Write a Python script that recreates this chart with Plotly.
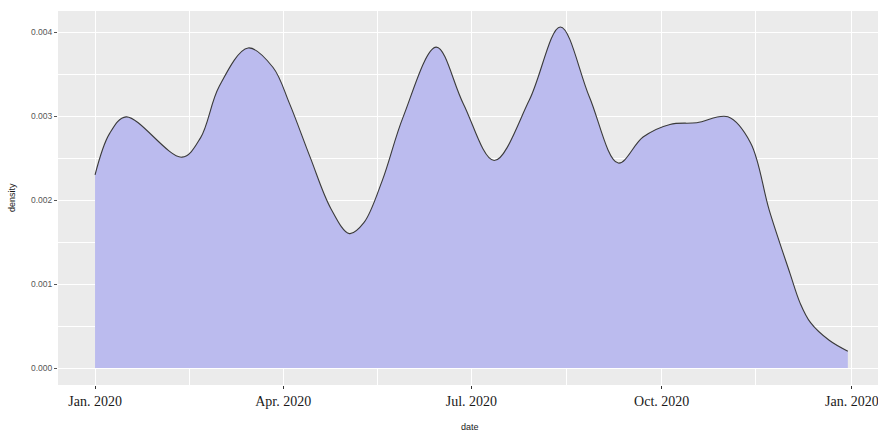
import plotly.graph_objects as go

# Kernel density estimate of event dates, sampled along the curve
dates = [
    "2020-01-01", "2020-01-08", "2020-01-16", "2020-02-12",
    "2020-02-21", "2020-03-01", "2020-03-15", "2020-03-27", "2020-04-04",
    "2020-04-14", "2020-04-24", "2020-05-03", "2020-05-10", "2020-05-19",
    "2020-05-29", "2020-06-14", "2020-06-27", "2020-07-12",
    "2020-07-29", "2020-08-13", "2020-08-27", "2020-09-10", "2020-09-22",
    "2020-10-05", "2020-10-18", "2020-11-02", "2020-11-13", "2020-11-22",
    "2020-12-02", "2020-12-07", "2020-12-12", "2020-12-21", "2020-12-30",
]
density = [
    0.00230, 0.00279, 0.00299, 0.00251,
    0.00274, 0.00335, 0.00381, 0.00358, 0.00315,
    0.00251, 0.00190, 0.00160, 0.00173, 0.00224,
    0.00299, 0.00382, 0.00315, 0.00247,
    0.00319, 0.00406, 0.00323, 0.00244, 0.00275,
    0.00290, 0.00292, 0.00299, 0.00268, 0.00188,
    0.00113, 0.00077, 0.00054, 0.00033, 0.00020,
]

x_tick_vals = ["2020-01-01", "2020-04-01", "2020-07-01", "2020-10-01", "2021-01-01"]
x_tick_text = ["Jan. 2020", "Apr. 2020", "Jul. 2020", "Oct. 2020", "Jan. 2020"]
x_minor_vals = ["2020-02-15 12:00", "2020-05-16 12:00", "2020-08-16", "2020-11-15 12:00"]
y_tick_vals = [0.000, 0.001, 0.002, 0.003, 0.004]
y_tick_text = ["0.000", "0.001", "0.002", "0.003", "0.004"]
y_minor_vals = [0.0005, 0.0015, 0.0025, 0.0035]

fig = go.Figure()
fig.add_trace(go.Scatter(
    x=dates, y=density,
    mode="lines",
    line=dict(color="#3a3a3a", width=1.1, shape="spline", smoothing=1.0),
    fill="tozeroy",
    fillcolor="rgb(187,187,238)",
    showlegend=False,
    hoverinfo="skip",
))

fig.update_layout(
    width=878, height=432,
    margin=dict(l=58, r=0, t=11, b=47),
    paper_bgcolor="white",
    plot_bgcolor="#EBEBEB",
    xaxis=dict(
        type="date",
        range=["2019-12-14 02:00", "2021-01-13 14:24"],
        tickvals=x_tick_vals, ticktext=x_tick_text,
        ticks="outside", ticklen=3, tickcolor="#333333", tickwidth=1,
        tickfont=dict(family="Liberation Serif", size=14, color="#1a1a1a"),
        ticklabeloverflow="allow",
        showgrid=True, gridcolor="white", gridwidth=1.3,
        zeroline=False, showline=False,
        minor=dict(tickvals=x_minor_vals, showgrid=True, gridcolor="white",
                   gridwidth=0.6, ticklen=0),
    ),
    yaxis=dict(
        range=[-0.000202, 0.00425],
        tickvals=y_tick_vals, ticktext=y_tick_text,
        ticks="outside", ticklen=3, tickcolor="#555555", tickwidth=1,
        tickfont=dict(family="Liberation Sans", size=8.5, color="#555555"),
        showgrid=True, gridcolor="white", gridwidth=1.3,
        zeroline=False, showline=False,
        minor=dict(tickvals=y_minor_vals, showgrid=True, gridcolor="white",
                   gridwidth=0.6, ticklen=0),
    ),
    annotations=[
        dict(text="date", xref="paper", yref="paper", x=(470 - 58) / 820,
             y=(385 - 427) / 374, showarrow=False,
             font=dict(family="Liberation Sans", size=9, color="#1a1a1a"),
             xanchor="center", yanchor="middle"),
        dict(text="density", xref="paper", yref="paper", x=(12 - 58) / 820,
             y=0.5, showarrow=False, textangle=-90,
             font=dict(family="Liberation Sans", size=9, color="#1a1a1a"),
             xanchor="center", yanchor="middle"),
    ],
)

fig.write_html("out.html")
